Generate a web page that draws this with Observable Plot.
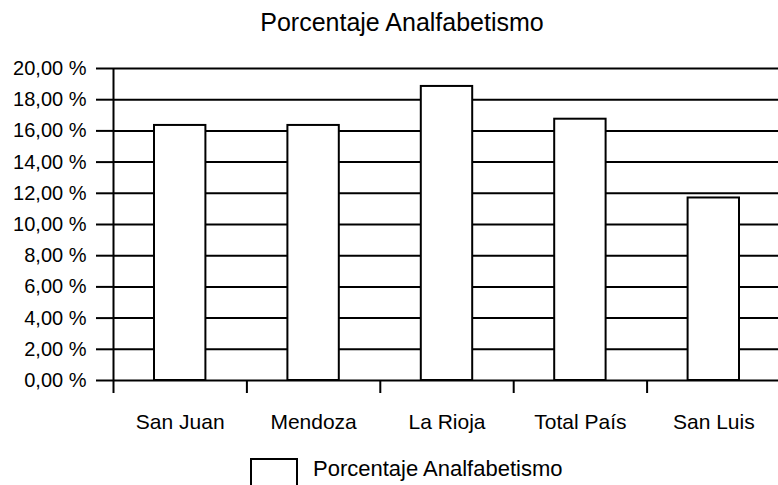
<!DOCTYPE html>
<html><head><meta charset="utf-8">
<script src="https://cdn.jsdelivr.net/npm/d3@7"></script>
<script src="https://cdn.jsdelivr.net/npm/@observablehq/plot@0.6"></script>
<style>
html,body{margin:0;padding:0;background:#fff;}
body{position:relative;width:778px;height:485px;overflow:hidden;font-family:"Liberation Sans",Arial,sans-serif;color:#000;}
#title{box-sizing:border-box;height:50px;padding-top:10px;padding-left:26px;line-height:25px;font-size:25px;text-align:center;white-space:nowrap;}
#chart svg{display:block;}
#swatch{position:absolute;left:250px;top:458px;width:44px;height:40px;border:2px solid #000;background:#fff;}
#legtext{position:absolute;left:313px;top:458px;font-size:22px;line-height:22px;white-space:nowrap;}
</style></head><body>
<div id="title"></div>
<div id="chart"></div>
<div id="swatch"></div>
<div id="legtext"></div>
<script>
const chartTitle = "Porcentaje Analfabetismo";
const seriesName = "Porcentaje Analfabetismo";
const categories = ["San Juan", "Mendoza", "La Rioja", "Total País", "San Luis"];
const values = [16.35, 16.35, 18.85, 16.75, 11.7];
const yTicks = [0, 2, 4, 6, 8, 10, 12, 14, 16, 18, 20];

document.getElementById("title").textContent = chartTitle;
document.getElementById("legtext").textContent = seriesName;

const data = categories.map((c, i) => ({i, category: c, value: values[i]}));
const fmt = d => d.toFixed(2).replace(".", ",") + " %";

const chart = Plot.plot({
  width: 778,
  height: 400,
  marginTop: 18,
  marginBottom: 70,
  marginLeft: 113,
  marginRight: 0,
  x: {domain: [0, categories.length], range: [113, 780], label: null},
  y: {domain: [0, 20], label: null},
  style: {fontFamily: "Liberation Sans, Arial, sans-serif", fontSize: "20px", color: "#000", background: "#fff"},
  marks: [
    Plot.ruleY(yTicks, {stroke: "#000", strokeWidth: 2}),
    Plot.rectY(data, {x1: "i", x2: d => d.i + 1, y: "value", insetLeft: 41, insetRight: 41, fill: "#fff", stroke: "#000", strokeWidth: 2}),
    Plot.ruleX([0], {stroke: "#000", strokeWidth: 2}),
    Plot.axisY({ticks: yTicks, tickSize: 17, tickPadding: 10, tickFormat: fmt, fontSize: 20, strokeWidth: 2, label: null}),
    Plot.axisX({ticks: d3.range(categories.length + 1), tickSize: 13, tickFormat: () => "", strokeWidth: 2, label: null}),
    Plot.axisX({ticks: categories.map((c, i) => i + 0.5), tickSize: 0, tickPadding: 34, tickFormat: d => categories[Math.floor(d)], fontSize: 21, label: null})
  ]
});
document.getElementById("chart").appendChild(chart);
</script>
</body></html>
